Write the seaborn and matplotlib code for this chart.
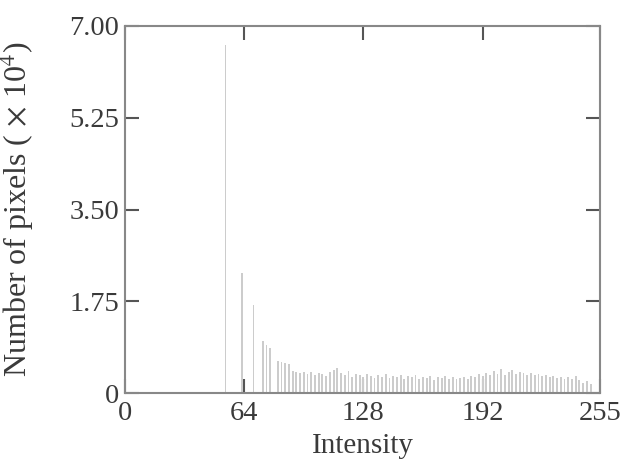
import matplotlib
matplotlib.use("Agg")
import matplotlib.pyplot as plt
import seaborn as sns
import pandas as pd

# Histogram data (counts in units of 10^4)
early_levels = [54, 63, 69, 74, 76, 78, 82, 84, 86, 88]
early_counts = [6.64, 2.28, 1.68, 1.00, 0.92, 0.86, 0.62, 0.60, 0.58, 0.55]

late_levels = list(range(90, 252, 2))
late_counts = [0.42, 0.40, 0.38, 0.41, 0.36, 0.40, 0.34, 0.38, 0.36, 0.33,
               0.40, 0.44, 0.47, 0.38, 0.35, 0.42, 0.31, 0.36, 0.34, 0.30,
               0.37, 0.33, 0.29, 0.34, 0.31, 0.36, 0.28, 0.33, 0.30, 0.35,
               0.27, 0.32, 0.30, 0.34, 0.26, 0.31, 0.29, 0.33, 0.25, 0.30,
               0.28, 0.32, 0.27, 0.30, 0.26, 0.29, 0.31, 0.27, 0.33, 0.30,
               0.36, 0.32, 0.38, 0.34, 0.42, 0.37, 0.45, 0.35, 0.40, 0.44,
               0.37, 0.41, 0.38, 0.35, 0.39, 0.34, 0.37, 0.32, 0.35, 0.30,
               0.33, 0.28, 0.31, 0.27, 0.30, 0.26, 0.32, 0.24, 0.20, 0.22,
               0.18]

x_ticks = [0, 64, 128, 192, 255]
y_ticks = [0, 1.75, 3.50, 5.25, 7.00]
y_tick_labels = ["0", "1.75", "3.50", "5.25", "7.00"]

df = pd.DataFrame({"Intensity": early_levels + late_levels,
                   "Count": early_counts + late_counts})

sns.set_theme(style="white")
plt.rcParams["font.family"] = ["Liberation Serif", "DejaVu Serif"]
plt.rcParams["mathtext.fontset"] = "stix"

fig = plt.figure(figsize=(6.2, 4.69), dpi=100)
ax = fig.add_axes([0.2016, 0.162, 0.766, 0.7826])

sns.histplot(data=df, x="Intensity", weights="Count", discrete=True,
             color="#cccccc", edgecolor="none", linewidth=0, alpha=1.0, ax=ax)

ax.set_xlim(0, 255)
ax.set_ylim(0, 7.0)
ax.set_xticks(x_ticks)
ax.set_yticks(y_ticks)
ax.set_yticklabels(y_tick_labels)

ax.tick_params(axis="both", which="major", direction="in", length=10, width=1.5,
               colors="#555555", labelcolor="#3a3a3a", labelsize=20.5,
               top=True, right=True, bottom=True, left=True)
ax.tick_params(axis="x", pad=6)
ax.tick_params(axis="y", pad=4)

for s in ax.spines.values():
    s.set_visible(True)
    s.set_color("#888888")
    s.set_linewidth(1.5)

ax.set_xlabel("Intensity", fontsize=21, color="#3a3a3a", labelpad=5)
ax.set_ylabel(r"Number of pixels ( $\times$ 10$^4$)", fontsize=23, color="#3a3a3a",
              labelpad=24)

fig.savefig("out.png", dpi=100)
